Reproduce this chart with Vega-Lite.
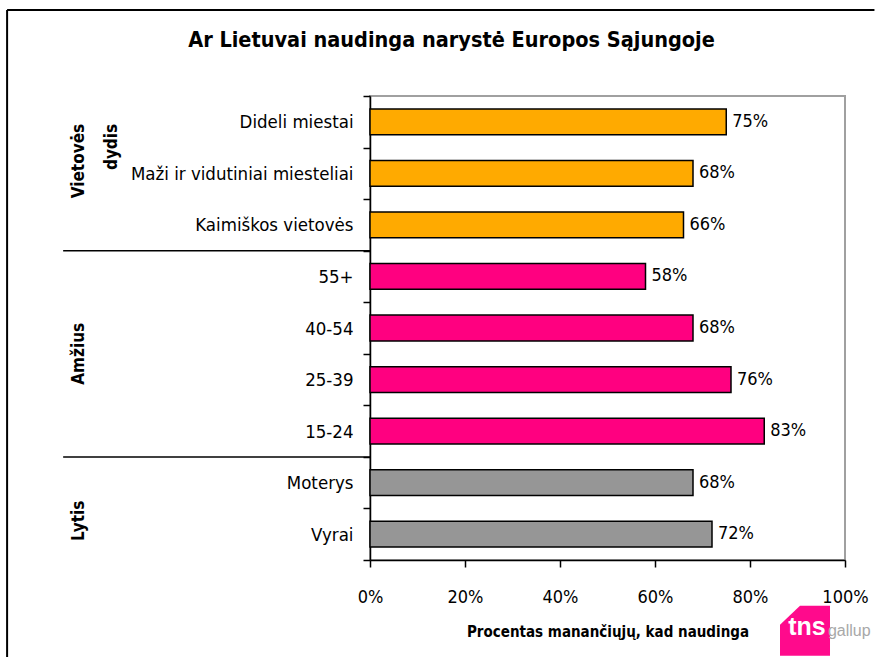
{
  "$schema": "https://vega.github.io/schema/vega-lite/v6.json",
  "width": 475,
  "height": 464,
  "autosize": {"type": "none"},
  "padding": {"left": 370, "top": 96, "right": 30, "bottom": 97},
  "background": "white",
  "title": {
    "text": "Ar Lietuvai naudinga narystė Europos Sąjungoje",
    "font": "DejaVu Sans Condensed, Liberation Sans, sans-serif",
    "fontSize": 21.5,
    "fontWeight": "bold",
    "color": "black",
    "anchor": "middle",
    "dx": -156,
    "offset": -42
  },
  "config": {
    "view": {"stroke": "#a0a0a0", "strokeWidth": 2},
    "font": "DejaVu Sans Condensed, Liberation Sans, sans-serif"
  },
  "layer": [
    {
      "data": {
        "values": [
          {"cat": "Dideli miestai", "group": "Vietovės dydis", "value": 0.75},
          {"cat": "Maži ir vidutiniai miesteliai", "group": "Vietovės dydis", "value": 0.68},
          {"cat": "Kaimiškos vietovės", "group": "Vietovės dydis", "value": 0.66},
          {"cat": "55+", "group": "Amžius", "value": 0.58},
          {"cat": "40-54", "group": "Amžius", "value": 0.68},
          {"cat": "25-39", "group": "Amžius", "value": 0.76},
          {"cat": "15-24", "group": "Amžius", "value": 0.83},
          {"cat": "Moterys", "group": "Lytis", "value": 0.68},
          {"cat": "Vyrai", "group": "Lytis", "value": 0.72}
        ]
      },
      "layer": [
        {
          "mark": {"type": "bar", "height": {"band": 0.5}, "stroke": "black", "strokeWidth": 1.5},
          "encoding": {
            "y": {
              "field": "cat",
              "type": "nominal",
              "sort": null,
              "scale": {
                "domain": ["Dideli miestai", "Maži ir vidutiniai miesteliai", "Kaimiškos vietovės", "55+", "40-54", "25-39", "15-24", "Moterys", "Vyrai"],
                "paddingInner": 0,
                "paddingOuter": 0
              },
              "axis": {
                "title": null,
                "tickBand": "extent",
                "tickSize": 7,
                "tickColor": "black",
                "tickWidth": 1.5,
                "domainColor": "black",
                "domainWidth": 1.5,
                "labelFontSize": 18.5,
                "labelColor": "black",
                "labelPadding": 10,
                "labelLimit": 400
              }
            },
            "x": {
              "field": "value",
              "type": "quantitative",
              "scale": {"domain": [0, 1], "nice": false},
              "axis": {
                "values": [0, 0.2, 0.4, 0.6, 0.8, 1],
                "format": ".0%",
                "grid": false,
                "labelFlush": false,
                "tickSize": 7,
                "tickColor": "black",
                "tickWidth": 1.5,
                "domainColor": "black",
                "domainWidth": 1.5,
                "labelFontSize": 18,
                "labelColor": "black",
                "labelPadding": 21,
                "title": "Procentas manančiųjų, kad naudinga",
                "titleFontSize": 15,
                "titleFontWeight": "bold",
                "titleColor": "black",
                "titlePadding": 18
              }
            },
            "color": {
              "field": "group",
              "type": "nominal",
              "scale": {"domain": ["Vietovės dydis", "Amžius", "Lytis"], "range": ["#FFAA00", "#FF0080", "#969696"]},
              "legend": null
            }
          }
        },
        {
          "mark": {"type": "text", "align": "left", "baseline": "middle", "dx": 6, "fontSize": 18, "color": "black"},
          "encoding": {
            "y": {"field": "cat", "type": "nominal", "sort": null},
            "x": {"field": "value", "type": "quantitative"},
            "text": {"field": "value", "type": "quantitative", "format": ".0%"}
          }
        }
      ]
    },
    {
      "data": {"values": [{"cat": "55+"}, {"cat": "Moterys"}]},
      "mark": {"type": "rule", "color": "black", "strokeWidth": 1.5},
      "encoding": {
        "y": {"field": "cat", "type": "nominal", "bandPosition": 0},
        "x": {"datum": -0.646},
        "x2": {"datum": 0}
      }
    },
    {
      "data": {"values": [{"cat": "Dideli miestai"}]},
      "mark": {"type": "rule", "color": "black", "strokeWidth": 2},
      "encoding": {
        "y": {"field": "cat", "type": "nominal", "bandPosition": -1.668},
        "x": {"datum": -0.764},
        "x2": {"datum": 1.062}
      }
    },
    {
      "data": {"values": [{"top": "Dideli miestai", "bottom": "Vyrai"}]},
      "mark": {"type": "rule", "color": "black", "strokeWidth": 2},
      "encoding": {
        "y": {"field": "top", "type": "nominal", "bandPosition": -1.668},
        "y2": {"field": "bottom", "bandPosition": 3},
        "x": {"datum": -0.764}
      }
    },
    {
      "data": {"values": [{"cat": "Dideli miestai", "label": "Vietovės\ndydis"}]},
      "mark": {"type": "text", "angle": 270, "align": "right", "baseline": "middle", "lineBreak": "\n", "lineHeight": 33, "fontSize": 17, "fontWeight": "bold", "color": "black"},
      "encoding": {
        "y": {"field": "cat", "type": "nominal", "bandPosition": 0.54},
        "x": {"datum": -0.6126},
        "text": {"field": "label"}
      }
    },
    {
      "data": {"values": [{"cat": "40-54", "label": "Amžius"}]},
      "mark": {"type": "text", "angle": 270, "align": "center", "baseline": "middle", "fontSize": 17, "fontWeight": "bold", "color": "black"},
      "encoding": {
        "y": {"field": "cat", "type": "nominal", "bandPosition": 1},
        "x": {"datum": -0.6126},
        "text": {"field": "label"}
      }
    },
    {
      "data": {"values": [{"cat": "Vyrai", "label": "Lytis"}]},
      "mark": {"type": "text", "angle": 270, "align": "center", "baseline": "middle", "fontSize": 17, "fontWeight": "bold", "color": "black"},
      "encoding": {
        "y": {"field": "cat", "type": "nominal", "bandPosition": 0.24},
        "x": {"datum": -0.6126},
        "text": {"field": "label"}
      }
    },
    {
      "data": {"values": [{"cat": "Vyrai", "brand": "tns", "sub": "gallup"}]},
      "layer": [
        {
          "mark": {"type": "point", "shape": "M -1 -0.24 L -0.2 -1 L 1 -1 L 1 1 L -1 1 Z", "size": 2500, "filled": true, "color": "#FF0A8C", "opacity": 1},
          "encoding": {
            "y": {"field": "cat", "type": "nominal", "bandPosition": 2.37},
            "x": {"datum": 0.9158}
          }
        },
        {
          "mark": {"type": "text", "align": "center", "baseline": "middle", "font": "Liberation Sans", "fontSize": 25, "fontWeight": "bold", "color": "white", "dy": -4},
          "encoding": {
            "y": {"field": "cat", "type": "nominal", "bandPosition": 2.37},
            "x": {"datum": 0.92},
            "text": {"field": "brand"}
          }
        },
        {
          "mark": {"type": "text", "align": "left", "baseline": "middle", "font": "Liberation Sans", "fontSize": 16, "color": "#A8A8A8"},
          "encoding": {
            "y": {"field": "cat", "type": "nominal", "bandPosition": 2.37},
            "x": {"datum": 0.964},
            "text": {"field": "sub"}
          }
        }
      ]
    }
  ]
}
